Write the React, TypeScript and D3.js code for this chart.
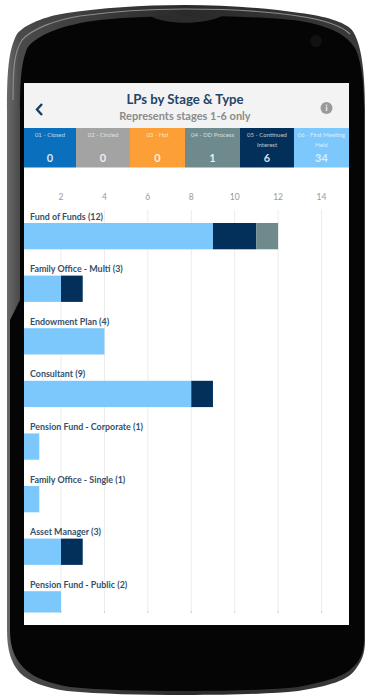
import React from "react";
import * as d3 from "d3";

const WIDTH = 365;
const HEIGHT = 697;

const stageLines = [
  ["01 - Closed"],
  ["02 - Circled"],
  ["03 - Hot"],
  ["04 - DD Process"],
  ["05 - Continued", "Interest"],
  ["06 - First Meeting", "Held"],
];
const stageTotals = [0, 0, 0, 1, 6, 34];
const stageColors = ["#0a70bd", "#a3a3a3", "#fb9f36", "#6f8a8c", "#03305a", "#7cc8fc"];
const stageEdges = [24, 76, 130, 185, 240, 294, 349];

const investorTypes = [
  "Fund of Funds",
  "Family Office - Multi",
  "Endowment Plan",
  "Consultant",
  "Pension Fund - Corporate",
  "Family Office - Single",
  "Asset Manager",
  "Pension Fund - Public",
];
const firstMeeting = [9, 2, 4, 8, 1, 1, 2, 2];
const continuedInterest = [2, 1, 0, 1, 0, 0, 1, 0];
const ddProcess = [1, 0, 0, 0, 0, 0, 0, 0];
const axisTicks = [2, 4, 6, 8, 10, 12, 14];

const rows = investorTypes.map((name, i) => ({
  name,
  first: firstMeeting[i],
  interest: continuedInterest[i],
  dd: ddProcess[i],
}));
const stackKeys = ["first", "interest", "dd"];
const stackColors = [stageColors[5], stageColors[4], stageColors[3]];
const stacked = d3.stack<any>().keys(stackKeys)(rows);

const x = d3.scaleLinear().domain([0, 14]).range([17.6, 321.5]);
const y = d3.scaleBand<string>().domain(investorTypes).range([223, 617.5]).paddingInner(0.5);

const SCREEN = { left: 24, right: 349, top: 83, bottom: 625 };
const PLOT_BOTTOM = 612.5;

// Handset silhouette, its black face, and the light seam along the top shoulder.
const bodyPath =
  "M7 110 C7 75 8 50 17 34 C24 25 45 16 67 13 C100 8 140 5 185 5 C225 5 265 8 300 13 C325 16 345 22 352 30 C361 42 365 70 365 110 L365 640 C365 655 361 662 355 670 C348 680 330 686 298 691 C270 694 230 695 185 695 C140 695 100 694 67 691 C45 688 28 681 20 673 C11 663 7 650 7 630 Z";
const facePath =
  "M20 110 C20 85 21 60 28 47 C38 35 60 25 100 20 C130 17 160 16 185 16 C225 16 270 17 300 21 C330 26 348 35 356 50 C362 65 364 85 364 110 L364 640 C364 655 358 663 352 668 C345 676 325 682 298 687 C270 690 230 691 185 691 C140 691 100 690 70 687 C48 683 35 678 26 670 C15 660 10 648 10 630 L10 320 L20 300 Z";
const seamPath =
  "M13 100 C13 70 14 52 22 40 C32 29 55 20 80 16 C115 11 150 9 185 9 C225 9 265 11 298 16 C325 20 342 26 350 34";

export default function App() {
  return (
    <div style={{ position: "fixed", left: 0, top: 0, width: WIDTH, height: HEIGHT, background: "#fff" }}>
      <svg width={WIDTH} height={HEIGHT} viewBox={`0 0 ${WIDTH} ${HEIGHT}`} style={{ display: "block", fontFamily: "Lato, sans-serif" }}>
        <defs>
          <linearGradient id="bezel" x1="0" x2="1" y1="0" y2="0">
            <stop offset="0" stopColor="#6a6a6a" />
            <stop offset="0.035" stopColor="#4a4a4a" />
            <stop offset="0.5" stopColor="#2a2a2a" />
            <stop offset="1" stopColor="#3a3a3a" />
          </linearGradient>
          <clipPath id="plot">
            <rect x={SCREEN.left} y={SCREEN.top} width={SCREEN.right - SCREEN.left} height={PLOT_BOTTOM - SCREEN.top} />
          </clipPath>
        </defs>

        <path d={bodyPath} fill="url(#bezel)" />
        <path d={seamPath} fill="none" stroke="#8c8c8c" strokeWidth={1.2} />
        <path d={facePath} fill="#050505" />
        <path d="M150 16 C165 25 205 25 222 16 Z" fill="#2c2c2c" />
        <circle cx={316} cy={41} r={6} fill="#111" />

        <rect x={SCREEN.left} y={SCREEN.top} width={SCREEN.right - SCREEN.left} height={SCREEN.bottom - SCREEN.top} fill="#fff" />

        {/* App header */}
        <rect x={SCREEN.left} y={SCREEN.top} width={SCREEN.right - SCREEN.left} height={45} fill="#f3f3f3" />
        <path d="M42 104 L37 109.5 L42 115" fill="none" stroke="#173f63" strokeWidth={2.4} />
        <text x={185} y={104} textAnchor="middle" fontSize={13.2} fontWeight={700} fill="#1f4568">LPs by Stage &amp; Type</text>
        <text x={185} y={119.5} textAnchor="middle" fontSize={11} fontWeight={700} fill="#8b8b8b">Represents stages 1-6 only</text>
        <circle cx={326.5} cy={108} r={6} fill="#9a9a9a" />
        <rect x={325.8} y={106.5} width={1.5} height={4.5} fill="#e4e4e4" />
        <rect x={325.8} y={104.5} width={1.5} height={1.3} fill="#e4e4e4" />

        {/* Stage totals */}
        {stageLines.map((lines, i) => {
          const x0 = stageEdges[i];
          const x1 = stageEdges[i + 1];
          const mid = (x0 + x1) / 2;
          return (
            <g key={lines[0]}>
              <rect x={x0} y={128} width={x1 - x0} height={39.5} fill={stageColors[i]} />
              {lines.map((line, j) => (
                <text key={line} x={mid} y={137 + j * 10} textAnchor="middle" fontSize={6} fill="#fff" fillOpacity={0.72}>{line}</text>
              ))}
              <text x={mid} y={162} textAnchor="middle" fontSize={11} fontWeight={700} fill="#fff" fillOpacity={i === 5 ? 0.7 : 0.85}>{stageTotals[i]}</text>
            </g>
          );
        })}

        {/* Value axis and grid */}
        {axisTicks.map((t) => (
          <g key={t}>
            <text x={x(t)} y={200} textAnchor="middle" fontSize={8.5} fill="#9a9a9a">{t}</text>
            <line x1={x(t)} x2={x(t)} y1={210} y2={PLOT_BOTTOM} stroke="#ececec" strokeWidth={1} />
            <line x1={x(t)} x2={x(t)} y1={PLOT_BOTTOM - 1.5} y2={PLOT_BOTTOM + 0.5} stroke="#cfcfcf" strokeWidth={1} />
          </g>
        ))}

        {/* Stacked bars per investor type */}
        <g clipPath="url(#plot)">
          {stacked.map((layer, k) =>
            layer.map((seg) =>
              seg[1] > seg[0] ? (
                <rect
                  key={`${k}-${seg.data.name}`}
                  x={x(seg[0])}
                  y={y(seg.data.name)}
                  width={x(seg[1]) - x(seg[0])}
                  height={y.bandwidth()}
                  fill={stackColors[k]}
                />
              ) : null
            )
          )}
        </g>

        {rows.map((r) => (
          <text key={r.name} x={30} y={(y(r.name) as number) - 3.5} fontSize={8.9} fontWeight={700} fill="#35506b">
            {`${r.name} (${r.first + r.interest + r.dd})`}
          </text>
        ))}
      </svg>
    </div>
  );
}
